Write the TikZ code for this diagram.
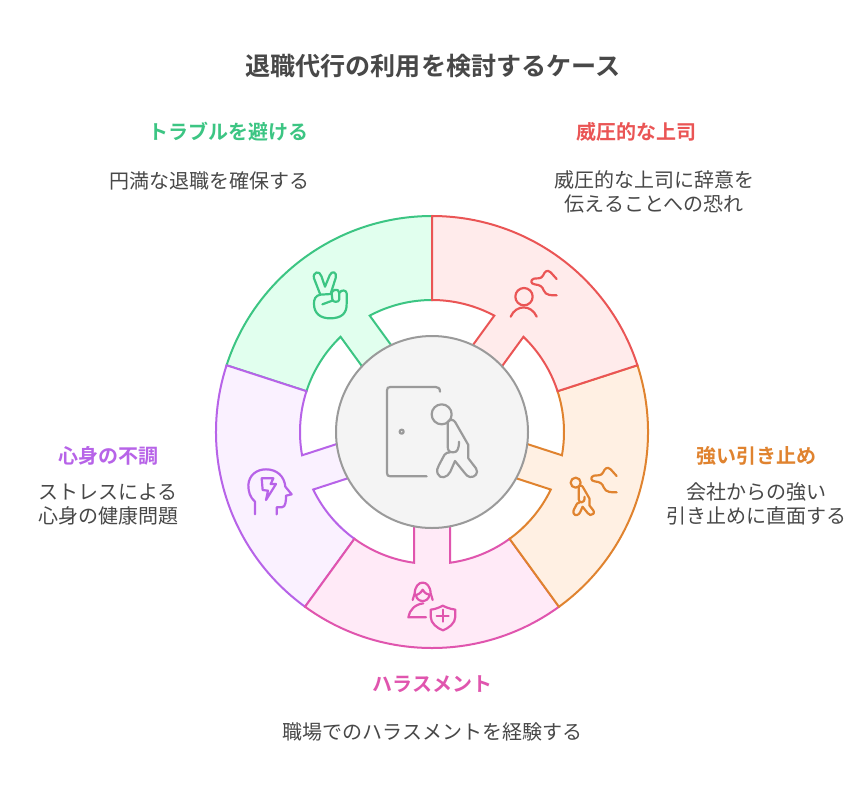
\documentclass[tikz,border=0pt]{standalone}
\usepackage{fontspec}
\setmainfont{Noto Sans CJK JP}
\newfontfamily\boldcjk{Noto Sans CJK JP Bold}
\definecolor{cgreen}{HTML}{3CC583}
\definecolor{fgreen}{HTML}{E1FFEE}
\definecolor{cred}{HTML}{EA5555}
\definecolor{fred}{HTML}{FFEBEB}
\definecolor{corange}{HTML}{E0832F}
\definecolor{forange}{HTML}{FFF0E3}
\definecolor{cpink}{HTML}{E055AE}
\definecolor{fpink}{HTML}{FFEAF7}
\definecolor{cpurple}{HTML}{B763E8}
\definecolor{fpurple}{HTML}{FAF1FF}
\definecolor{cgrey}{HTML}{9A9A9A}
\definecolor{fgrey}{HTML}{F4F4F4}
\definecolor{ctext}{HTML}{484848}
\newcommand{\sector}[3]{%
  \begin{scope}[shift={(432,432)},x=1pt,y=1pt,rotate=#1]
    \draw[line width=2pt,line join=miter,draw=#2,fill=#3]
      (-36:216) arc[start angle=-36,end angle=36,radius=216]
      -- (36:132) arc[start angle=36,end angle=7.84,radius=132]
      -- (85,18) -- (85,-18) -- (-7.84:132)
      arc[start angle=-7.84,end angle=-36,radius=132] -- cycle;
  \end{scope}}
\newcommand{\walker}{%
  (18,22) -- (18,97) .. controls (18,110) and (25,114) .. (35,114)
  .. controls (46,114) and (52,105) .. (52,82)
  (20,20) .. controls (28,14) and (36,16) .. (41,24) -- (80,92) -- (80,132) -- (103,162)
  .. controls (112,176) and (100,190) .. (85,188) .. controls (78,187) and (74,182) .. (70,177)
  -- (40,140) -- (26,172) .. controls (18,190) and (-5,196) .. (-12,178)
  .. controls (-16,168) and (-12,160) .. (-8,152) -- (8,122) .. controls (12,116) and (18,114) .. (25,114)}
\newcommand{\squiggle}{%
  (170,42) -- (152,22) .. controls (141,12) and (134,20) .. (129,32)
  .. controls (123,43) and (110,39) .. (102,41) .. controls (90,44) and (92,57) .. (104,58)
  .. controls (120,60) and (127,64) .. (131,76) .. controls (137,92) and (155,91) .. (170,91)}
\tikzset{
  titletext/.style={font=\boldcjk\fontsize{25.1}{30}\selectfont,text=ctext,inner sep=0pt},
  headtext/.style={font=\boldcjk\fontsize{20}{24}\selectfont,inner sep=0pt},
  bodytext/.style={font=\fontsize{20}{24}\selectfont,text=ctext,inner sep=0pt,align=center},
  iconline/.style={line width=2.2pt,line cap=round,line join=round},
  iconscope/.style={x=.3333pt,y=-.3333pt}
}
\begin{document}
\begin{tikzpicture}[x=1pt,y=-1pt]
\useasboundingbox (0,0) rectangle (864,804);
\fill[white] (0,0) rectangle (864,804);
\sector{126}{cgreen}{fgreen}
\sector{198}{cpurple}{fpurple}
\sector{270}{cpink}{fpink}
\sector{342}{corange}{forange}
\sector{54}{cred}{fred}
\node[circle,minimum size=192pt,inner sep=0pt,draw=cgrey,fill=fgrey,line width=2pt] (hub) at (432,432) {};

% centre icon
\begin{scope}[shift={(375,375)},iconscope,iconline,draw=cgrey]
  \draw[cgrey] (195,50) .. controls (195,40) and (190,36) .. (182,36) -- (46,36)
    .. controls (39,36) and (36,39) .. (36,46) -- (36,294) .. controls (36,301) and (39,304) .. (46,304) -- (155,304);
  \draw[cgrey] (80,170) circle[radius=6];
  \draw[cgrey] (200,118) circle[radius=30];
  \begin{scope}[shift={(200,118)}]\draw[cgrey] \walker;\end{scope}
\end{scope}
% green icon
\begin{scope}[shift={(295,260)},iconscope,iconline]
  \draw[cgreen] (76,104) -- (57,55) .. controls (52,36) and (74,30) .. (79,48) -- (90,80) -- (104,46)
    .. controls (110,30) and (128,36) .. (122,54) -- (108,98);
  \draw[cgreen] (76,104) .. controls (62,106) and (56,118) .. (57,132) .. controls (57,160) and (76,175) .. (105,175)
    .. controls (140,175) and (156,160) .. (155,130) -- (155,100) .. controls (155,90) and (138,88) .. (134,98);
  \draw[cgreen] (76,104) -- (108,102) .. controls (115,96) and (110,92) .. (118,90)
    .. controls (128,88) and (133,92) .. (133,100) -- (133,118) .. controls (133,128) and (112,128) .. (112,118) -- (110,100);
  \draw[cgreen] (82,133) -- (112,122);
\end{scope}
% red icon
\begin{scope}[shift={(500,265)},iconscope,iconline]
  \draw[cred] (72,95) circle[radius=26];
  \draw[cred] (32,155) .. controls (48,118) and (94,118) .. (110,155);
  \draw[cred] \squiggle;
\end{scope}
% orange icon
\begin{scope}[shift={(560,460)},iconscope,iconline]
  \draw[corange] (47,68) circle[radius=15];
  \begin{scope}[shift={(47,68)},x=.172pt,y=-.172pt]\draw[corange] \walker;\end{scope}
  \begin{scope}[shift={(0,6)}]\draw[corange] \squiggle;\end{scope}
\end{scope}
% pink icon
\begin{scope}[shift={(400,575)},iconscope,iconline]
  \draw[cpink] (38,75) -- (44,55) .. controls (46,12) and (90,12) .. (92,55) -- (98,75);
  \draw[cpink] (44,60) .. controls (55,60) and (62,54) .. (68,44) .. controls (74,54) and (82,60) .. (92,60);
  \draw[cpink] (48,60) .. controls (50,84) and (86,84) .. (88,60);
  \draw[cpink] (78,127) -- (25,127) .. controls (28,105) and (45,88) .. (70,85);
  \draw[cpink] (92,104) .. controls (115,101) and (125,93) .. (128,92) .. controls (135,95) and (145,101) .. (166,104)
    -- (166,125) .. controls (166,145) and (145,160) .. (129,166) .. controls (112,160) and (92,145) .. (92,125) -- cycle;
  \draw[cpink] (128,104) -- (128,140) (110,122) -- (146,122);
\end{scope}
% purple icon
\begin{scope}[shift={(240,460)},iconscope,iconline]
  \draw[cpurple] (45,163) -- (45,125) .. controls (30,112) and (25,95) .. (25,75)
    .. controls (27,45) and (50,28) .. (78,28) .. controls (110,28) and (133,48) .. (136,80)
    -- (155,103) -- (138,107) .. controls (138,120) and (138,142) .. (125,142) -- (110,142) -- (110,163);
  \draw[cpurple] (65,55) -- (100,55) -- (92,72) -- (108,72) -- (78,120) -- (84,92) -- (68,90) -- cycle;
\end{scope}

\node[titletext] (title) at (433,66) {退職代行の利用を検討するケース};
\node[headtext,text=cgreen] (h1) at (228,132) {トラブルを避ける};
\node[bodytext] (b1) at (209.5,181) {円満な退職を確保する};
\node[headtext,text=cred] (h2) at (636,132) {威圧的な上司};
\node[bodytext] (b2) at (654,192) {威圧的な上司に辞意を\\伝えることへの恐れ};
\node[headtext,text=corange] (h3) at (756,456) {強い引き止め};
\node[bodytext] (b3) at (756,504) {会社からの強い\\引き止めに直面する};
\node[headtext,text=cpink] (h4) at (432.5,684) {ハラスメント};
\node[bodytext] (b4) at (432.5,732) {職場でのハラスメントを経験する};
\node[headtext,text=cpurple] (h5) at (108,456) {心身の不調};
\node[bodytext] (b5) at (108,504) {ストレスによる\\心身の健康問題};
\end{tikzpicture}
\end{document}
